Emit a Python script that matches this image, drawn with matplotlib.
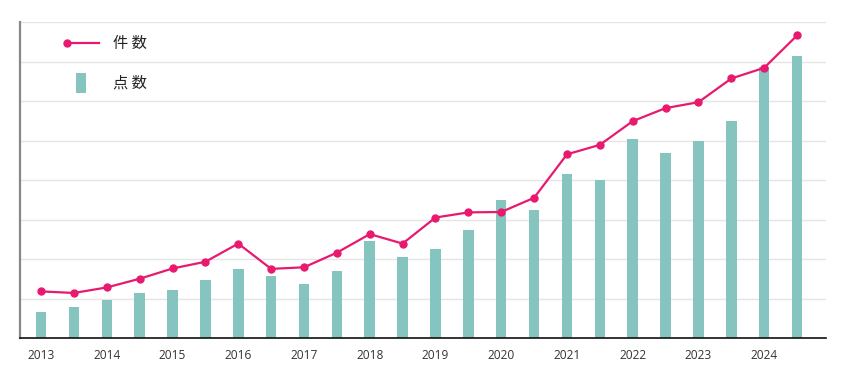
import matplotlib
matplotlib.use("Agg")
import matplotlib.pyplot as plt
import numpy as np
from matplotlib.lines import Line2D
from matplotlib.patches import Rectangle
from matplotlib.legend_handler import HandlerBase

plt.rcParams['font.family'] = ['Noto Sans CJK JP', 'DejaVu Sans']

years = ["2013", "2014", "2015", "2016", "2017", "2018", "2019", "2020", "2021", "2022", "2023", "2024"]
# two observations per year (half-years)
kensu = [118, 114, 128, 150, 176, 193, 239, 175, 179, 216, 263, 239,
         305, 318, 319, 355, 465, 489, 549, 582, 597, 657, 684, 766]
tensu = [66, 78, 97, 115, 121, 146, 174, 157, 137, 170, 246, 205,
         225, 274, 350, 324, 416, 399, 505, 468, 498, 550, 686, 713]
label_line = "件 数"
label_bar = "点 数"

LINE_C = "#E8196E"
BAR_C = "#85C4BF"

fig = plt.figure(figsize=(8.45, 3.8), dpi=100)
ax = fig.add_axes([20/845, 1-338/380, 806/845, 316/380])

x = np.arange(len(kensu))
ax.bar(x, tensu, width=0.32, color=BAR_C, zorder=2)
ax.plot(x, kensu, color=LINE_C, lw=1.6, marker='o', ms=5, zorder=3)

ax.set_xlim(-0.64, 23.88)
ax.set_ylim(0, 800)
ax.set_yticks(np.arange(0, 801, 100))
ax.yaxis.grid(True, color="#e5e5e5", lw=1)
ax.set_axisbelow(True)
ax.tick_params(axis='y', left=False, labelleft=False)
ax.set_xticks(x[::2])
ax.set_xticklabels(years, fontsize=8.6, color="#333333", fontfamily=['Open Sans', 'DejaVu Sans'])
ax.tick_params(axis='x', length=0, pad=8)
for s in ['top', 'right']:
    ax.spines[s].set_visible(False)
ax.spines['left'].set_color("#888888")
ax.spines['left'].set_linewidth(1.6)
ax.spines['bottom'].set_color("#111111")
ax.spines['bottom'].set_linewidth(1.2)


class HandlerLineStart(HandlerBase):
    def create_artists(self, legend, orig_handle, xdescent, ydescent, width, height, fontsize, trans):
        y = height / 2 - ydescent
        ln = Line2D([-xdescent + 3, width - xdescent], [y, y], color=LINE_C, lw=1.6)
        mk = Line2D([-xdescent + 3], [y], marker='o', ms=5, color=LINE_C, lw=0)
        ln.set_transform(trans)
        mk.set_transform(trans)
        return [ln, mk]


class HandlerTallBar(HandlerBase):
    def create_artists(self, legend, orig_handle, xdescent, ydescent, width, height, fontsize, trans):
        w = 7.5
        h = 14.5
        cx = width / 2 - xdescent
        cy = height / 2 - ydescent
        r = Rectangle((cx - w / 2, cy - h / 2), w, h, facecolor=BAR_C, edgecolor='none')
        r.set_transform(trans)
        return [r]


h_line = Line2D([], [], color=LINE_C)
h_bar = Rectangle((0, 0), 1, 1, color=BAR_C)
leg = ax.legend([h_line, h_bar], [label_line, label_bar],
                handler_map={Line2D: HandlerLineStart(), Rectangle: HandlerTallBar()},
                loc='upper left', bbox_to_anchor=(0.0533, 0.962), frameon=False,
                borderpad=0, borderaxespad=0, fontsize=11, handlelength=2.35,
                handleheight=1.35, handletextpad=0.9, labelspacing=1.48,
                labelcolor="#222222")

fig.savefig("out.png", dpi=100)
